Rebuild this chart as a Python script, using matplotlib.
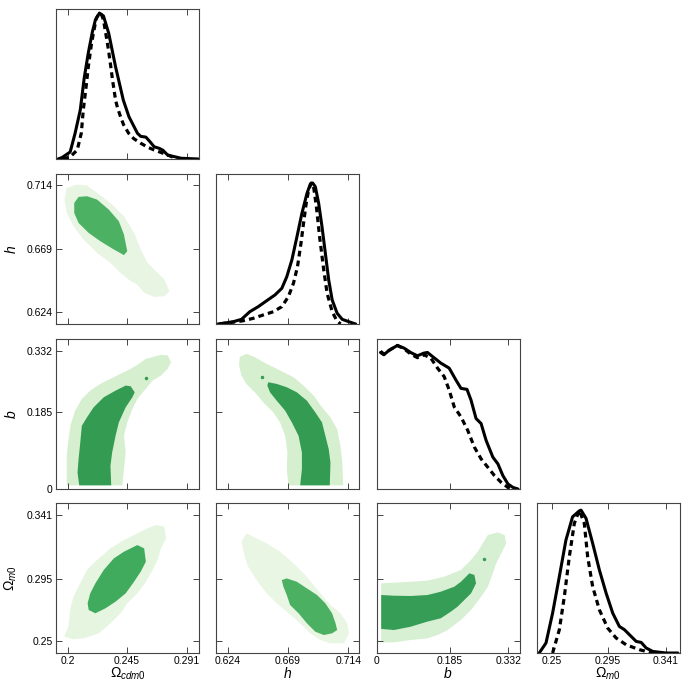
import matplotlib
matplotlib.use("Agg")
import matplotlib.pyplot as plt

plt.rcParams['font.family'] = ['Liberation Sans', 'DejaVu Sans']
plt.rcParams['mathtext.fontset'] = 'custom'
plt.rcParams['mathtext.rm'] = 'Liberation Sans'
plt.rcParams['mathtext.it'] = 'Liberation Sans:italic'

# parameters
labels = [r'$\Omega_{\mathit{cdm0}}$', r'$h$', r'$b$', r'$\Omega_{\mathit{m0}}$']
limits = [(0.191, 0.300), (0.6153, 0.722), (0.0, 0.36), (0.2413, 0.3497)]
ticks = [[0.2, 0.245, 0.291], [0.624, 0.669, 0.714], [0.0, 0.185, 0.332], [0.25, 0.295, 0.341]]
tick_labels = [['0.2', '0.245', '0.291'], ['0.624', '0.669', '0.714'],
               ['0', '0.185', '0.332'], ['0.25', '0.295', '0.341']]
om_diag_lim = (0.2376, 0.3522)
diag_top = [1.028, 1.064, 1.045, 1.05]

# 1D marginals (solid = full, dashed = second posterior)
cdm_x = [0.1925, 0.1956, 0.2018, 0.2056, 0.2095, 0.2125, 0.2156, 0.2187, 0.221, 0.2241, 0.2272,
         0.2312, 0.2364, 0.2423, 0.2466, 0.2531, 0.2556, 0.2595, 0.2625, 0.2658, 0.2697, 0.2725,
         0.2761, 0.2864, 0.2995]
cdm_y = [0, 0.01, 0.048, 0.178, 0.336, 0.555, 0.726, 0.87, 0.952, 1.0, 0.98,
         0.861, 0.632, 0.404, 0.29, 0.176, 0.155, 0.15, 0.12, 0.084, 0.073, 0.06,
         0.027, 0.005, 0]
cdm_dx = [0.1964, 0.2018, 0.2072, 0.2103, 0.2118, 0.2141, 0.2156, 0.2179, 0.2195, 0.2218, 0.2241,
          0.2257, 0.2272, 0.2295, 0.231, 0.2326, 0.2341, 0.2364, 0.2379, 0.2402, 0.2425, 0.2464,
          0.2502, 0.2556, 0.261, 0.2658, 0.271, 0.2761, 0.2838]
cdm_dy = [0, 0.014, 0.062, 0.178, 0.336, 0.507, 0.63, 0.78, 0.863, 0.966, 1.0,
          0.99, 0.952, 0.83, 0.747, 0.644, 0.541, 0.404, 0.35, 0.29, 0.235, 0.176,
          0.14, 0.108, 0.08, 0.062, 0.045, 0.027, 0]

h_x = [0.6167, 0.628, 0.6343, 0.6405, 0.6468, 0.6531, 0.6593, 0.6644, 0.6681, 0.6719, 0.6757,
       0.6794, 0.6832, 0.6857, 0.6874, 0.6894, 0.6919, 0.6944, 0.6969, 0.6994, 0.702, 0.7057,
       0.7095, 0.7145, 0.7195]
h_y = [0, 0.016, 0.033, 0.087, 0.123, 0.165, 0.206, 0.253, 0.335, 0.454, 0.619,
       0.785, 0.927, 0.993, 1.0, 0.974, 0.856, 0.69, 0.501, 0.312, 0.17, 0.076,
       0.033, 0.016, 0]
h_dx = [0.618, 0.6305, 0.6355, 0.643, 0.6505, 0.6581, 0.6644, 0.6693, 0.6731, 0.6761, 0.6787,
        0.6806, 0.6826, 0.6844, 0.6864, 0.6881, 0.6902, 0.6926, 0.6957, 0.6982, 0.702, 0.7052,
        0.7082]
h_dy = [0, 0.016, 0.023, 0.04, 0.064, 0.087, 0.123, 0.194, 0.289, 0.406, 0.572,
        0.714, 0.856, 0.95, 1.0, 0.974, 0.832, 0.619, 0.383, 0.218, 0.087, 0.028,
        0]

b_x = [0.0101, 0.0185, 0.0311, 0.0524, 0.0691, 0.0861, 0.103, 0.1197, 0.1284, 0.141, 0.162,
       0.183, 0.2, 0.2127, 0.2278, 0.238, 0.2506, 0.2633, 0.2759, 0.2929, 0.3056, 0.3182,
       0.3309, 0.3435, 0.3562]
b_y = [0.951, 0.935, 0.965, 1.0, 0.982, 0.951, 0.928, 0.947, 0.951, 0.923, 0.877,
       0.842, 0.759, 0.701, 0.694, 0.619, 0.491, 0.456, 0.339, 0.222, 0.175, 0.093,
       0.035, 0.011, 0]
b_dx = [0.0101, 0.0185, 0.0311, 0.0524, 0.0691, 0.0861, 0.103, 0.1197, 0.1367, 0.1537, 0.1704,
        0.183, 0.1957, 0.2127, 0.2296, 0.2463, 0.2633, 0.2803, 0.297, 0.3139, 0.3309, 0.3435]
b_dy = [0.96, 0.94, 0.965, 1.0, 0.978, 0.94, 0.915, 0.935, 0.912, 0.842, 0.783,
        0.689, 0.572, 0.502, 0.409, 0.292, 0.21, 0.151, 0.093, 0.046, 0.011, 0]

om_x = [0.2398, 0.2452, 0.2505, 0.2559, 0.2612, 0.2665, 0.2719, 0.2733, 0.2773, 0.2826, 0.288,
        0.2934, 0.2987, 0.304, 0.3081, 0.3121, 0.3175, 0.3215, 0.3255, 0.3308, 0.3415, 0.3509]
om_y = [0, 0.07, 0.279, 0.535, 0.791, 0.953, 0.995, 1.0, 0.942, 0.768, 0.581,
        0.419, 0.279, 0.186, 0.163, 0.128, 0.081, 0.074, 0.035, 0.011, 0, 0]
om_dx = [0.2505, 0.2559, 0.2599, 0.2639, 0.2679, 0.2719, 0.2759, 0.2786, 0.2826, 0.288, 0.2947,
         0.3014, 0.3094, 0.3201, 0.3308]
om_dy = [0, 0.163, 0.395, 0.674, 0.907, 1.0, 0.907, 0.674, 0.465, 0.302, 0.174,
         0.105, 0.058, 0.023, 0]

# 2D credible regions: (outer 95%, inner 68%) outlines
cdm_h_out = [(0.1992, 0.7121), (0.2069, 0.7145), (0.2146, 0.7138), (0.2223, 0.7086), (0.2325, 0.7014),
             (0.2428, 0.692), (0.2505, 0.6801), (0.2556, 0.6683), (0.2607, 0.6588), (0.2684, 0.6517),
             (0.2736, 0.647), (0.2774, 0.6387), (0.2736, 0.6351), (0.2659, 0.6346), (0.2582, 0.6375),
             (0.253, 0.6434), (0.2479, 0.6458), (0.2402, 0.6517), (0.2325, 0.6588), (0.2223, 0.6659),
             (0.212, 0.6754), (0.2043, 0.6849), (0.1992, 0.6943), (0.1974, 0.7038)]
cdm_h_in = [(0.2082, 0.7057), (0.2146, 0.7062), (0.2223, 0.7038), (0.2312, 0.6967), (0.2389, 0.6884),
            (0.2428, 0.6789), (0.2453, 0.6671), (0.2428, 0.6643), (0.2351, 0.6683), (0.2248, 0.6742),
            (0.2159, 0.6801), (0.2082, 0.6872), (0.2049, 0.6943), (0.2049, 0.7014)]

cdm_b_out = [(0.1992, 0.0088), (0.2415, 0.0088), (0.2428, 0.0474), (0.2441, 0.0876), (0.2428, 0.1277),
             (0.2453, 0.1598), (0.2492, 0.192), (0.253, 0.2161), (0.2582, 0.2361), (0.2646, 0.2602),
             (0.271, 0.2723), (0.2761, 0.2884), (0.2787, 0.3044), (0.2761, 0.3205), (0.271, 0.3221),
             (0.2646, 0.3165), (0.2595, 0.3124), (0.2543, 0.3004), (0.2479, 0.2884), (0.2402, 0.2763),
             (0.2325, 0.2643), (0.2248, 0.2522), (0.2171, 0.2361), (0.2107, 0.2161), (0.2056, 0.188),
             (0.2023, 0.1558), (0.2005, 0.1197), (0.1992, 0.0795), (0.1992, 0.0394)]
cdm_b_in = [(0.2087, 0.0088), (0.2331, 0.0088), (0.2325, 0.0554), (0.2338, 0.0876), (0.2364, 0.1277),
            (0.2389, 0.1598), (0.2441, 0.196), (0.2492, 0.2201), (0.251, 0.2321), (0.2479, 0.2466),
            (0.2441, 0.2482), (0.2364, 0.2361), (0.2274, 0.2201), (0.2197, 0.196), (0.2146, 0.1719),
            (0.2107, 0.1518), (0.2095, 0.1116), (0.2082, 0.0715), (0.2074, 0.0394)]
cdm_b_dot = (0.2595, 0.2667)

h_b_out = [(0.633, 0.3165), (0.638, 0.3245), (0.6443, 0.3165), (0.6506, 0.3044), (0.6581, 0.2924),
           (0.6656, 0.2803), (0.6731, 0.2683), (0.6806, 0.2482), (0.6882, 0.2241), (0.6944, 0.196),
           (0.7007, 0.1719), (0.7057, 0.1438), (0.7082, 0.1036), (0.7095, 0.0635), (0.7102, 0.0088),
           (0.6694, 0.0088), (0.6681, 0.0474), (0.6686, 0.0876), (0.6669, 0.1277), (0.6631, 0.1598),
           (0.6581, 0.1839), (0.6506, 0.208), (0.6443, 0.2321), (0.638, 0.2522), (0.6343, 0.2723),
           (0.6325, 0.2964)]
h_b_in = [(0.6543, 0.2562), (0.6606, 0.2522), (0.6681, 0.2442), (0.6756, 0.2321), (0.6831, 0.212),
          (0.6894, 0.1839), (0.6944, 0.1598), (0.6969, 0.1277), (0.6994, 0.0956), (0.7007, 0.0635),
          (0.7002, 0.0088), (0.6781, 0.0088), (0.6794, 0.0474), (0.6794, 0.0876), (0.6769, 0.1277),
          (0.6719, 0.1598), (0.6669, 0.188), (0.6606, 0.212), (0.6556, 0.2321), (0.6536, 0.2482)]
h_b_dot = (0.6498, 0.2683)

cdm_om_out = [(0.1972, 0.2531), (0.2005, 0.2603), (0.2018, 0.2724), (0.2043, 0.282), (0.2095, 0.2916),
              (0.2146, 0.3013), (0.2223, 0.3085), (0.2325, 0.3169), (0.2428, 0.3229), (0.253, 0.3277),
              (0.2607, 0.3313), (0.2671, 0.3338), (0.2736, 0.3326), (0.2748, 0.3241), (0.271, 0.3169),
              (0.2684, 0.3085), (0.2646, 0.3013), (0.2595, 0.2928), (0.253, 0.2844), (0.2453, 0.2772),
              (0.2402, 0.27), (0.2325, 0.2628), (0.2236, 0.2555), (0.212, 0.2519), (0.2043, 0.2512)]
cdm_om_in = [(0.2151, 0.2772), (0.2171, 0.2844), (0.221, 0.2916), (0.2274, 0.3013), (0.2351, 0.3097),
             (0.2428, 0.3145), (0.253, 0.3193), (0.2582, 0.3169), (0.2595, 0.3073), (0.2556, 0.3001),
             (0.2505, 0.2928), (0.2441, 0.2844), (0.2364, 0.2784), (0.2287, 0.2736), (0.221, 0.27),
             (0.2159, 0.2724)]

h_om_out = [(0.6343, 0.3217), (0.638, 0.3277), (0.6456, 0.3241), (0.6531, 0.3205), (0.6631, 0.3145),
            (0.6731, 0.3061), (0.6831, 0.2964), (0.6932, 0.2844), (0.7007, 0.276), (0.7082, 0.27),
            (0.7132, 0.2628), (0.7145, 0.2555), (0.7107, 0.2483), (0.7007, 0.2483), (0.6932, 0.2507),
            (0.6857, 0.2555), (0.6781, 0.2628), (0.6681, 0.2712), (0.6606, 0.2772), (0.6531, 0.2844),
            (0.6456, 0.294), (0.6393, 0.3037), (0.6368, 0.3109)]
h_om_in = [(0.6644, 0.294), (0.6681, 0.2952), (0.6756, 0.2928), (0.6831, 0.288), (0.6907, 0.2832),
           (0.6969, 0.2772), (0.7019, 0.27), (0.7045, 0.2628), (0.7057, 0.2579), (0.7019, 0.2555),
           (0.6957, 0.2543), (0.6894, 0.2567), (0.6831, 0.2628), (0.6769, 0.27), (0.6706, 0.276),
           (0.6681, 0.2832), (0.6656, 0.2892)]

b_om_out = [(0.0118, 0.2916), (0.0439, 0.2921), (0.0861, 0.2928), (0.1283, 0.2936), (0.1705, 0.2964),
            (0.2127, 0.3013), (0.238, 0.3085), (0.2549, 0.3145), (0.2675, 0.3205), (0.2802, 0.3265),
            (0.3055, 0.3285), (0.3224, 0.3265), (0.3266, 0.3205), (0.3139, 0.3133), (0.3013, 0.3061),
            (0.2928, 0.2989), (0.2802, 0.2892), (0.2633, 0.282), (0.238, 0.2724), (0.2127, 0.2652),
            (0.1789, 0.2579), (0.1536, 0.2543), (0.1283, 0.2519), (0.0861, 0.2507), (0.0439, 0.249),
            (0.0118, 0.249)]
b_om_in = [(0.0118, 0.2832), (0.0439, 0.2827), (0.0861, 0.2825), (0.1283, 0.2832), (0.162, 0.2856),
           (0.1958, 0.2892), (0.2127, 0.2928), (0.2253, 0.2964), (0.2338, 0.2989), (0.2464, 0.2977),
           (0.2506, 0.2916), (0.238, 0.2844), (0.2211, 0.2796), (0.2042, 0.2748), (0.1873, 0.2712),
           (0.162, 0.2664), (0.1283, 0.264), (0.0861, 0.2603), (0.0439, 0.2579), (0.0118, 0.2587)]
b_om_dot = (0.27, 0.309)

diag = {0: (cdm_x, cdm_y, cdm_dx, cdm_dy), 1: (h_x, h_y, h_dx, h_dy),
        2: (b_x, b_y, b_dx, b_dy), 3: (om_x, om_y, om_dx, om_dy)}
pairs = {
    (1, 0): (cdm_h_out, cdm_h_in, None, '#e7f5e2', '#4db163'),
    (2, 0): (cdm_b_out, cdm_b_in, cdm_b_dot, '#d5efcf', '#339b52'),
    (2, 1): (h_b_out, h_b_in, h_b_dot, '#d5efcf', '#339b52'),
    (3, 0): (cdm_om_out, cdm_om_in, None, '#e5f5e0', '#41ab5d'),
    (3, 1): (h_om_out, h_om_in, None, '#e8f6e3', '#4bb062'),
    (3, 2): (b_om_out, b_om_in, b_om_dot, '#d7efd2', '#359d55'),
}

W = 692.0
col_left = [56, 216, 376.5, 536.5]
row_top = [9, 174, 339, 503]
pw, ph = 143, 150

fig = plt.figure(figsize=(6.92, 6.92), dpi=100)

for i in range(4):
    for j in range(i + 1):
        ax = fig.add_axes([col_left[j] / W, (W - row_top[i] - ph) / W, pw / W, ph / W])
        if i == j:
            sx, sy, dx, dy = diag[i]
            ax.plot(sx, sy, color='black', lw=2.2, solid_joinstyle='round',
                    solid_capstyle='round')
            ax.plot(dx, dy, color='black', lw=2.3, ls=(0, (1.8, 1.3)),
                    dash_joinstyle='round')
            ax.set_ylim(0, diag_top[i])
            ax.set_yticks([])
            ax.set_xlim(om_diag_lim if i == 3 else limits[j])
        else:
            outer, inner, dot, c_out, c_in = pairs[(i, j)]
            ax.fill([p[0] for p in outer], [p[1] for p in outer], color=c_out, lw=0)
            ax.fill([p[0] for p in inner], [p[1] for p in inner], color=c_in, lw=0)
            if dot is not None:
                ax.plot([dot[0]], [dot[1]], 'o', color=c_in, ms=2.5, mew=0)
            ax.set_xlim(limits[j])
            ax.set_ylim(limits[i])
            ax.set_yticks(ticks[i])
            if j == 0:
                ax.set_yticklabels(tick_labels[i])
                ax.set_ylabel(labels[i], fontsize=10)
                ax.yaxis.set_label_coords(-0.26, 0.5)
            else:
                ax.set_yticklabels([])
        ax.set_xticks(ticks[j])
        if i == 3:
            ax.set_xticklabels(tick_labels[j])
            ax.set_xlabel(labels[j], fontsize=10)
            ax.xaxis.set_label_coords(0.5, -0.085)
        else:
            ax.set_xticklabels([])
        ax.tick_params(direction='in', top=True, right=(i != j), length=4, width=0.7,
                       colors='#444444', labelcolor='black', labelsize=7.5, pad=2.5)
        for s in ax.spines.values():
            s.set_color('#444444')
            s.set_linewidth(0.8)

fig.savefig('out.png', dpi=100)
